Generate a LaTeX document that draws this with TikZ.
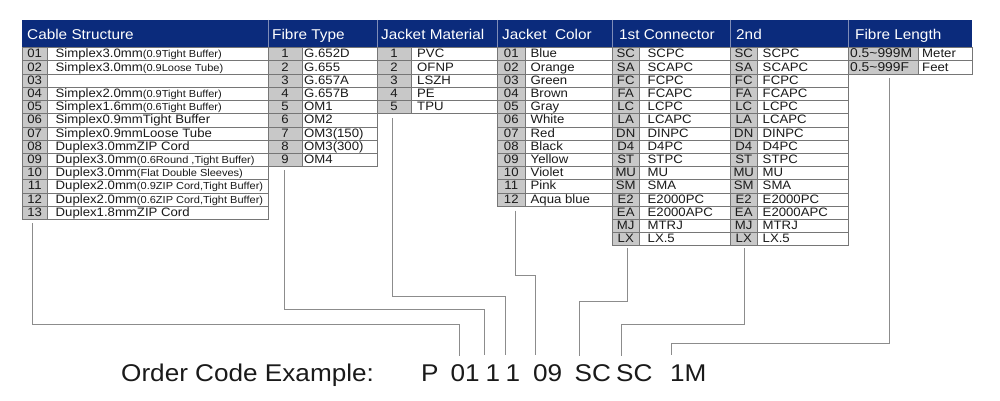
\documentclass[tikz,border=0pt]{standalone}
\usepackage{fontspec}
\setmainfont{Liberation Sans}[FakeStretch=1.08]
\definecolor{hdr}{HTML}{0B2B7C}
\definecolor{codegray}{HTML}{C8C8C8}
\definecolor{gridc}{HTML}{767676}
\definecolor{linec}{HTML}{8C8C8C}
\definecolor{txt}{HTML}{1A1A1A}
\definecolor{hsep}{HTML}{7F8DB8}
\tikzset{
 cellt/.style={anchor=base, inner sep=0pt, font=\fontsize{12.2}{14}\selectfont, text=txt},
 desct/.style={anchor=base west, inner sep=0pt, font=\fontsize{12.2}{14}\selectfont, text=txt},
 hdrt/.style={anchor=base west, inner sep=0pt, font=\fontsize{14.2}{16}\selectfont, text=white},
 gridline/.style={draw=gridc, line width=0.8pt},
 hsepline/.style={draw=hsep, line width=0.8pt},
 conn/.style={draw=linec, line width=0.9pt},
 codet/.style={anchor=base west, inner sep=0pt, font=\fontsize{24.2}{28}\selectfont, text=txt},
}
\newcommand{\sm}[1]{{\fontsize{10.2}{12}\selectfont #1}}
\newcommand{\ordtable}[6]{%
 \foreach \cc/\dd [count=\i] in {#6} {
   \pgfmathsetmacro{\yt}{47.7+13.2*(\i-1)}
   \pgfmathsetmacro{\yb}{\yt+13.2}
   \pgfmathsetmacro{\yl}{\yt+10.2}
   \fill[codegray] (#2,\yt) rectangle (#3,\yb);
   \draw[gridline] (#2,\yt) rectangle (#4,\yb);
   \draw[gridline] (#3,\yt) -- (#3,\yb);
   \node[cellt] (#1-c\i) at ({(#2+#3)/2},\yl) {\cc};
   \node[desct] (#1-d\i) at ({#3+#5},\yl) {\dd};
 }%
}
\begin{document}
\begin{tikzpicture}[x=1pt,y=-1pt]
\useasboundingbox[fill=white] (0,0) rectangle (1000,401);
% header
\fill[hdr] (22,20) rectangle (972,47.7);
\foreach \xx in {268,377,497,612,730,848} { \draw[hsepline] (\xx,20) -- (\xx,47.7); }
\node[hdrt] (h1) at (27,39.5) {Cable Structure};
\node[hdrt] (h2) at (272,39.5) {Fibre Type};
\node[hdrt] (h3) at (381,39.5) {Jacket Material};
\node[hdrt] (h4) at (502,39.5) {Jacket\ \ Color};
\node[hdrt] (h5) at (619,39.5) {1st Connector};
\node[hdrt] (h6) at (736,39.5) {2nd};
\node[hdrt] (h7) at (855,39.5) {Fibre Length};
% tables
\ordtable{cab}{22}{47.5}{268}{8}{01/{Simplex3.0mm\sm{(0.9Tight Buffer)}},02/{Simplex3.0mm\sm{(0.9Loose Tube)}},03/{},04/{Simplex2.0mm\sm{(0.9Tight Buffer)}},05/{Simplex1.6mm\sm{(0.6Tight Buffer)}},06/{Simplex0.9mmTight Buffer},07/{Simplex0.9mmLoose Tube},08/{Duplex3.0mmZIP Cord},09/{Duplex3.0mm\sm{(0.6Round ,Tight Buffer)}},10/{Duplex3.0mm\sm{(Flat Double Sleeves)}},11/{Duplex2.0mm\sm{(0.9ZIP Cord,Tight Buffer)}},12/{Duplex2.0mm\sm{(0.6ZIP Cord,Tight Buffer)}},13/{Duplex1.8mmZIP Cord}}
\ordtable{fib}{268}{302}{377}{2}{1/G.652D,2/G.655,3/G.657A,4/G.657B,5/OM1,6/OM2,7/OM3(150),8/OM3(300),9/OM4}
\ordtable{jm}{377}{411}{497}{6}{1/PVC,2/OFNP,3/LSZH,4/PE,5/TPU}
\ordtable{jc}{497}{525.5}{612}{5}{01/Blue,02/Orange,03/Green,04/Brown,05/Gray,06/White,07/Red,08/Black,09/Yellow,10/Violet,11/Pink,12/Aqua blue}
\ordtable{ca}{612}{639.5}{730}{8}{SC/SCPC,SA/SCAPC,FC/FCPC,FA/FCAPC,LC/LCPC,LA/LCAPC,DN/DINPC,D4/D4PC,ST/STPC,MU/MU,SM/SMA,E2/E2000PC,EA/E2000APC,MJ/MTRJ,LX/LX.5}
\ordtable{cb}{730}{757.5}{848}{5}{SC/SCPC,SA/SCAPC,FC/FCPC,FA/FCAPC,LC/LCPC,LA/LCAPC,DN/DINPC,D4/D4PC,ST/STPC,MU/MU,SM/SMA,E2/E2000PC,EA/E2000APC,MJ/MTRJ,LX/LX.5}
% fibre length table
\foreach \cc/\dd [count=\i] in {{0.5\textasciitilde999M}/Meter,{0.5\textasciitilde999F}/Feet} {
  \pgfmathsetmacro{\yt}{47.7+13.2*(\i-1)}
  \pgfmathsetmacro{\yb}{\yt+13.2}
  \pgfmathsetmacro{\yl}{\yt+10.2}
  \fill[codegray] (848,\yt) rectangle (918,\yb);
  \draw[gridline] (848,\yt) rectangle (972,\yb);
  \draw[gridline] (918,\yt) -- (918,\yb);
  \node[desct, font=\fontsize{12.8}{14}\selectfont] (fl-c\i) at (850,\yl) {\cc};
  \node[desct] (fl-d\i) at (922,\yl) {\dd};
}
% order code text
\node[codet] (oc) at (121,381.7) {Order Code Example:};
\node[codet] (kP) at (421,381.7) {P};
\node[codet] (k01) at (450.5,381.7) {01};
\node[codet] (k1a) at (485.5,381.7) {1};
\node[codet] (k1b) at (505.5,381.7) {1};
\node[codet] (k09) at (533,381.7) {09};
\node[codet] (kSCa) at (574.5,381.7) {SC};
\node[codet] (kSCb) at (616,381.7) {SC};
\node[codet] (k1M) at (670,381.7) {1M};
% connector start / end points
\coordinate (sCab) at (32.3,223);   \coordinate (eCab) at (459.3,356); \coordinate (hCab) at (0,324.3);
\coordinate (sFib) at (284.3,170);  \coordinate (eFib) at (484.3,355); \coordinate (hFib) at (0,309);
\coordinate (sJm)  at (392.3,118.3);\coordinate (eJm)  at (505,355);   \coordinate (hJm)  at (0,296);
\coordinate (sJc)  at (515.7,210.7);\coordinate (eJc)  at (535.3,355); \coordinate (hJc)  at (0,275.7);
\coordinate (sCa)  at (627.7,248.3);\coordinate (eCa)  at (579.3,356); \coordinate (hCa)  at (0,301);
\coordinate (sCb)  at (744.3,248.3);\coordinate (eCb)  at (621,356);   \coordinate (hCb)  at (0,324.3);
\coordinate (sFl)  at (889.3,78.3); \coordinate (eFl)  at (671.7,355); \coordinate (hFl)  at (0,343.3);
\foreach \nn in {Cab,Fib,Jm,Jc,Ca,Cb,Fl} {
  \draw[conn] (s\nn) -- (s\nn |- h\nn) -| (e\nn);
}
\end{tikzpicture}
\end{document}
